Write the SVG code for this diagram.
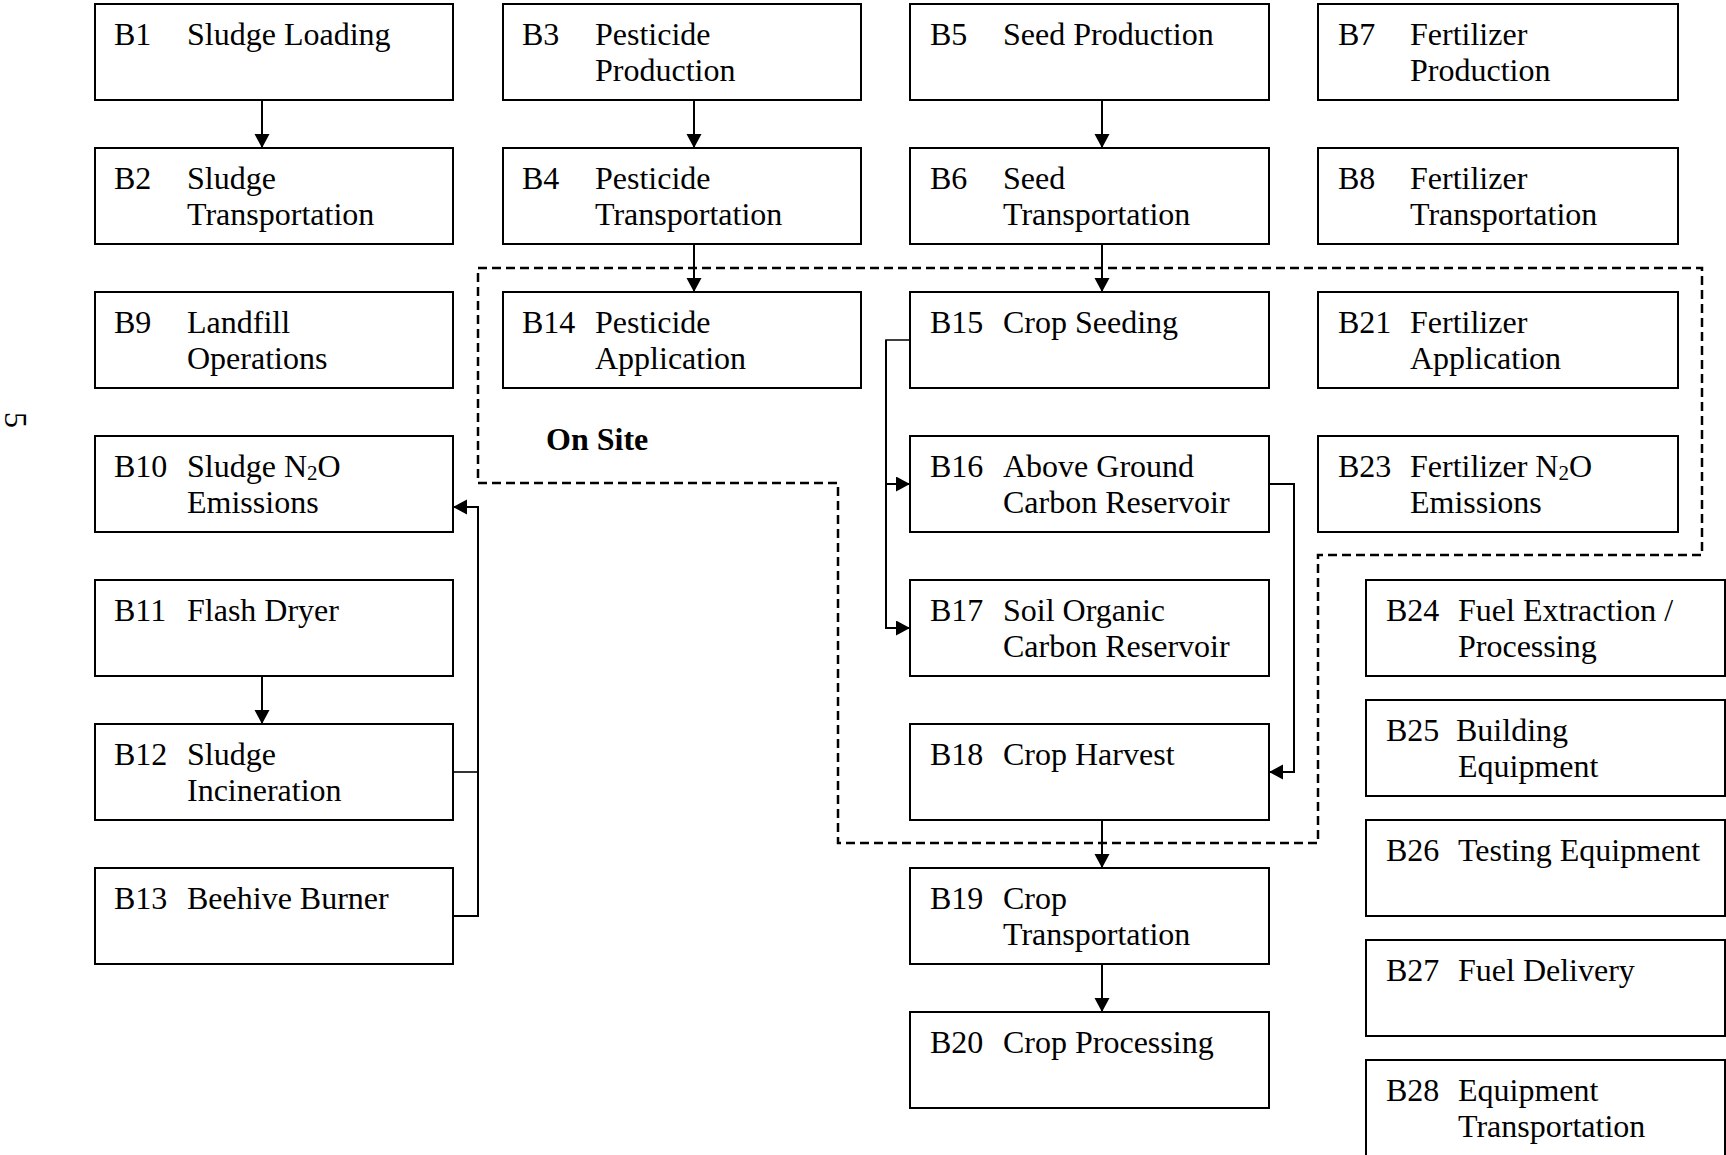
<svg xmlns="http://www.w3.org/2000/svg" width="1726" height="1155" viewBox="0 0 1726 1155">
<style>
  .box { fill: #ffffff; stroke: #000000; stroke-width: 2; }
  .t { font-family: "Liberation Serif", "Times New Roman", serif; font-size: 32px; fill: #000000; }
  .sub { font-size: 21px; }
  .bold { font-weight: bold; }
  .conn { fill: none; stroke: #000000; stroke-width: 2; }
  .stub { fill: none; stroke: #000000; stroke-width: 1.6; }
  .dash { fill: none; stroke: #000000; stroke-width: 2.5; stroke-dasharray: 9 5; }
</style>
<defs>
  <marker id="arr" markerUnits="userSpaceOnUse" markerWidth="16" markerHeight="16" refX="14" refY="7.5" orient="auto">
    <path d="M0,0 L14,7.5 L0,15 Z" fill="#000000"/>
  </marker>
</defs>
<rect width="1726" height="1155" fill="#ffffff"/>

<!-- page number -->
<text class="t" x="5" y="412" font-size="28" transform="rotate(90 5 412)">5</text>

<!-- dashed on-site boundary -->
<g id="onsite">
  <path class="dash" d="M478,268 L1702,268 L1702,555 L1318,555 L1318,843 L838,843 L838,483 L478,483 Z"/>
  <text class="t bold" x="546" y="450">On Site</text>
</g>

<!-- column 1 -->
<g id="B1"><rect class="box" x="95" y="4" width="358" height="96"/><text class="t" x="114" y="45">B1</text><text class="t" x="187" y="45">Sludge Loading</text></g>
<g id="B2"><rect class="box" x="95" y="148" width="358" height="96"/><text class="t" x="114" y="189">B2</text><text class="t" x="187" y="189">Sludge</text><text class="t" x="187" y="225">Transportation</text></g>
<g id="B9"><rect class="box" x="95" y="292" width="358" height="96"/><text class="t" x="114" y="333">B9</text><text class="t" x="187" y="333">Landfill</text><text class="t" x="187" y="369">Operations</text></g>
<g id="B10"><rect class="box" x="95" y="436" width="358" height="96"/><text class="t" x="114" y="477">B10</text><text class="t" x="187" y="477">Sludge N<tspan class="sub" dy="3">2</tspan><tspan dy="-3">O</tspan></text><text class="t" x="187" y="513">Emissions</text></g>
<g id="B11"><rect class="box" x="95" y="580" width="358" height="96"/><text class="t" x="114" y="621">B11</text><text class="t" x="187" y="621">Flash Dryer</text></g>
<g id="B12"><rect class="box" x="95" y="724" width="358" height="96"/><text class="t" x="114" y="765">B12</text><text class="t" x="187" y="765">Sludge</text><text class="t" x="187" y="801">Incineration</text></g>
<g id="B13"><rect class="box" x="95" y="868" width="358" height="96"/><text class="t" x="114" y="909">B13</text><text class="t" x="187" y="909">Beehive Burner</text></g>

<!-- column 2 -->
<g id="B3"><rect class="box" x="503" y="4" width="358" height="96"/><text class="t" x="522" y="45">B3</text><text class="t" x="595" y="45">Pesticide</text><text class="t" x="595" y="81">Production</text></g>
<g id="B4"><rect class="box" x="503" y="148" width="358" height="96"/><text class="t" x="522" y="189">B4</text><text class="t" x="595" y="189">Pesticide</text><text class="t" x="595" y="225">Transportation</text></g>
<g id="B14"><rect class="box" x="503" y="292" width="358" height="96"/><text class="t" x="522" y="333">B14</text><text class="t" x="595" y="333">Pesticide</text><text class="t" x="595" y="369">Application</text></g>

<!-- column 3 -->
<g id="B5"><rect class="box" x="910" y="4" width="359" height="96"/><text class="t" x="930" y="45">B5</text><text class="t" x="1003" y="45">Seed Production</text></g>
<g id="B6"><rect class="box" x="910" y="148" width="359" height="96"/><text class="t" x="930" y="189">B6</text><text class="t" x="1003" y="189">Seed</text><text class="t" x="1003" y="225">Transportation</text></g>
<g id="B15"><rect class="box" x="910" y="292" width="359" height="96"/><text class="t" x="930" y="333">B15</text><text class="t" x="1003" y="333">Crop Seeding</text></g>
<g id="B16"><rect class="box" x="910" y="436" width="359" height="96"/><text class="t" x="930" y="477">B16</text><text class="t" x="1003" y="477">Above Ground</text><text class="t" x="1003" y="513">Carbon Reservoir</text></g>
<g id="B17"><rect class="box" x="910" y="580" width="359" height="96"/><text class="t" x="930" y="621">B17</text><text class="t" x="1003" y="621">Soil Organic</text><text class="t" x="1003" y="657">Carbon Reservoir</text></g>
<g id="B18"><rect class="box" x="910" y="724" width="359" height="96"/><text class="t" x="930" y="765">B18</text><text class="t" x="1003" y="765">Crop Harvest</text></g>
<g id="B19"><rect class="box" x="910" y="868" width="359" height="96"/><text class="t" x="930" y="909">B19</text><text class="t" x="1003" y="909">Crop</text><text class="t" x="1003" y="945">Transportation</text></g>
<g id="B20"><rect class="box" x="910" y="1012" width="359" height="96"/><text class="t" x="930" y="1053">B20</text><text class="t" x="1003" y="1053">Crop Processing</text></g>

<!-- column 4 -->
<g id="B7"><rect class="box" x="1318" y="4" width="360" height="96"/><text class="t" x="1338" y="45">B7</text><text class="t" x="1410" y="45">Fertilizer</text><text class="t" x="1410" y="81">Production</text></g>
<g id="B8"><rect class="box" x="1318" y="148" width="360" height="96"/><text class="t" x="1338" y="189">B8</text><text class="t" x="1410" y="189">Fertilizer</text><text class="t" x="1410" y="225">Transportation</text></g>
<g id="B21"><rect class="box" x="1318" y="292" width="360" height="96"/><text class="t" x="1338" y="333">B21</text><text class="t" x="1410" y="333">Fertilizer</text><text class="t" x="1410" y="369">Application</text></g>
<g id="B23"><rect class="box" x="1318" y="436" width="360" height="96"/><text class="t" x="1338" y="477">B23</text><text class="t" x="1410" y="477">Fertilizer N<tspan class="sub" dy="3">2</tspan><tspan dy="-3">O</tspan></text><text class="t" x="1410" y="513">Emissions</text></g>

<!-- column 5 -->
<g id="B24"><rect class="box" x="1366" y="580" width="359" height="96"/><text class="t" x="1386" y="621">B24</text><text class="t" x="1458" y="621">Fuel Extraction /</text><text class="t" x="1458" y="657">Processing</text></g>
<g id="B25"><rect class="box" x="1366" y="700" width="359" height="96"/><text class="t" x="1386" y="741">B25</text><text class="t" x="1456" y="741">Building</text><text class="t" x="1458" y="777">Equipment</text></g>
<g id="B26"><rect class="box" x="1366" y="820" width="359" height="96"/><text class="t" x="1386" y="861">B26</text><text class="t" x="1458" y="861">Testing Equipment</text></g>
<g id="B27"><rect class="box" x="1366" y="940" width="359" height="96"/><text class="t" x="1386" y="981">B27</text><text class="t" x="1458" y="981">Fuel Delivery</text></g>
<g id="B28"><rect class="box" x="1366" y="1060" width="359" height="96"/><text class="t" x="1386" y="1101">B28</text><text class="t" x="1458" y="1101">Equipment</text><text class="t" x="1458" y="1137">Transportation</text></g>

<!-- connectors -->
<g id="connectors">
  <line class="conn" x1="262" y1="100" x2="262" y2="148" marker-end="url(#arr)"/>
  <line class="conn" x1="694" y1="100" x2="694" y2="148" marker-end="url(#arr)"/>
  <line class="conn" x1="1102" y1="100" x2="1102" y2="148" marker-end="url(#arr)"/>
  <line class="conn" x1="694" y1="244" x2="694" y2="292" marker-end="url(#arr)"/>
  <line class="conn" x1="1102" y1="244" x2="1102" y2="292" marker-end="url(#arr)"/>
  <line class="conn" x1="262" y1="676" x2="262" y2="724" marker-end="url(#arr)"/>
  <line class="conn" x1="1102" y1="820" x2="1102" y2="868" marker-end="url(#arr)"/>
  <line class="conn" x1="1102" y1="964" x2="1102" y2="1012" marker-end="url(#arr)"/>
  <!-- B12, B13 to B10 -->
  <line class="stub" x1="453" y1="772" x2="478" y2="772"/>
  <polyline class="conn" points="453,916 478,916 478,507 453,507" marker-end="url(#arr)"/>
  <!-- B15 to B16, B17 -->
  <polyline class="stub" points="910,340 886,340 886,484"/>
  <polyline class="conn" points="886,340 886,628 910,628" marker-end="url(#arr)"/>
  <line class="conn" x1="886" y1="484" x2="910" y2="484" marker-end="url(#arr)"/>
  <!-- B16 to B18 -->
  <polyline class="conn" points="1269,484 1294,484 1294,772 1269,772" marker-end="url(#arr)"/>
</g>
</svg>
